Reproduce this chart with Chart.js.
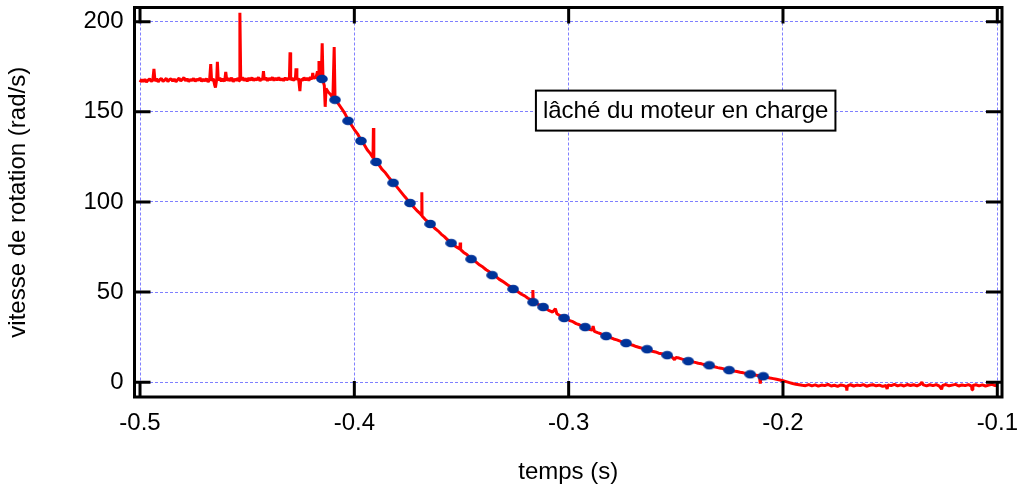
<!DOCTYPE html>
<html><head><meta charset="utf-8">
<script src="https://cdn.jsdelivr.net/npm/chart.js@4.4.1/dist/chart.umd.min.js"></script>
<style>html,body{margin:0;padding:0;background:#fff;overflow:hidden}canvas{display:block}</style>
</head><body>
<canvas id="c" width="1017" height="485"></canvas>
<script>
// ---- data ----
const redTime = [
-0.50000,-0.49925,-0.49850,-0.49775,-0.49700,-0.49625,-0.49550,-0.49475,-0.49400,-0.49350,
-0.49300,-0.49225,-0.49150,-0.49075,-0.49000,-0.48925,-0.48850,-0.48775,-0.48700,-0.48625,
-0.48550,-0.48475,-0.48400,-0.48325,-0.48250,-0.48175,-0.48100,-0.48025,-0.47950,-0.47875,
-0.47800,-0.47725,-0.47650,-0.47575,-0.47500,-0.47425,-0.47350,-0.47275,-0.47200,-0.47125,
-0.47050,-0.46975,-0.46900,-0.46825,-0.46750,-0.46700,-0.46660,-0.46575,-0.46520,-0.46480,
-0.46420,-0.46390,-0.46350,-0.46275,-0.46200,-0.46125,-0.46050,-0.46000,-0.45950,-0.45875,
-0.45800,-0.45725,-0.45650,-0.45575,-0.45500,-0.45425,-0.45380,-0.45340,-0.45300,-0.45225,
-0.45150,-0.45075,-0.45000,-0.44925,-0.44850,-0.44775,-0.44700,-0.44625,-0.44550,-0.44475,
-0.44400,-0.44325,-0.44280,-0.44240,-0.44200,-0.44125,-0.44050,-0.43975,-0.43900,-0.43825,
-0.43750,-0.43675,-0.43600,-0.43525,-0.43450,-0.43375,-0.43300,-0.43225,-0.43150,-0.43075,
-0.43030,-0.43000,-0.42970,-0.42900,-0.42850,-0.42750,-0.42720,-0.42680,-0.42600,-0.42540,
-0.42500,-0.42425,-0.42350,-0.42275,-0.42200,-0.42125,-0.42050,-0.41980,-0.41940,-0.41900,
-0.41850,-0.41800,-0.41720,-0.41680,-0.41650,-0.41620,-0.41580,-0.41540,-0.41500,-0.41460,
-0.4140,-0.4136,-0.4132,-0.4122,-0.4112,-0.4100,-0.4094,-0.4090,-0.4075,
-0.4060,-0.4045,-0.4030,-0.4015,-0.4000,-0.3985,-0.3970,-0.3955,-0.3940,-0.3925,-0.3913,-0.3911,-0.3909,-0.3897,-0.3885,-0.3870,-0.3855,-0.3840,-0.3825,-0.3810,
-0.3795,-0.3780,-0.3765,-0.3750,-0.3735,-0.3720,-0.3705,-0.3690,-0.3686,-0.3685,-0.3684,-0.3670,-0.3655,-0.3640,-0.3625,-0.3610,-0.3595,-0.3580,-0.3565,-0.3550,
-0.3535,-0.3520,-0.3508,-0.3506,-0.3504,-0.3490,-0.3475,-0.3460,-0.3445,-0.3430,-0.3415,-0.3400,-0.3385,-0.3370,-0.3355,-0.3340,-0.3325,-0.3310,-0.3295,-0.3280,
-0.3265,-0.3250,-0.3235,-0.3220,-0.3205,-0.3190,-0.3175,-0.3169,-0.3167,-0.3165,-0.3150,-0.3135,-0.3120,-0.3105,-0.3090,-0.3075,-0.3062,-0.3055,-0.3040,-0.3025,
-0.3010,-0.2995,-0.2980,-0.2965,-0.2950,-0.2935,-0.2920,-0.2905,-0.2890,-0.2886,-0.2880,-0.2865,-0.2850,-0.2835,-0.2820,-0.2805,-0.2790,-0.2775,-0.2760,-0.2745,
-0.2730,-0.2715,-0.2700,-0.2685,-0.2670,-0.2655,-0.2640,-0.2625,-0.2610,-0.2595,-0.2580,-0.2565,-0.2550,-0.2535,-0.2520,-0.2506,-0.2500,-0.2485,-0.2470,-0.2455,
-0.2440,-0.2425,-0.2410,-0.2395,-0.2380,-0.2365,-0.2350,-0.2335,-0.2320,-0.2305,-0.2290,-0.2275,-0.2260,-0.2245,-0.2230,-0.2215,-0.2200,-0.2185,-0.2170,-0.2155,
-0.2140,-0.2125,-0.2110,-0.2106,-0.2102,-0.2090,-0.2075,-0.2060,-0.2045,-0.2030,-0.2015,-0.2000,-0.1985,-0.1970,-0.1955,-0.1940,-0.1925,-0.1910,
-0.1895,-0.1880,-0.1865,-0.1850,-0.1835,-0.1820,-0.1805,-0.1790,-0.1775,-0.1760,-0.1745,-0.1730,-0.1715,-0.1704,-0.1702,-0.1700,-0.1685,-0.1670,-0.1655,-0.1640,
-0.1625,-0.1610,-0.1595,-0.1580,-0.1565,-0.1550,-0.1535,-0.1520,-0.1514,-0.1510,-0.1495,-0.1480,-0.1465,-0.1450,-0.1435,-0.1420,-0.1405,-0.1390,-0.1375,-0.1360,
-0.1352,-0.1345,-0.1330,-0.1315,-0.1300,-0.1285,-0.1270,-0.1260,-0.1255,-0.1240,-0.1225,-0.1210,-0.1195,-0.1180,-0.1165,-0.1150,-0.1135,-0.1120,-0.1118,-0.1114,
-0.1100,-0.1085,-0.1070,-0.1055,-0.1040,-0.1025,-0.1010,-0.1000
];
const redSpeed = [
166.4,167.9,166.8,168.1,166.5,167.6,168.3,166.9,167.7,173.8,
167.0,168.4,166.7,167.9,168.5,166.9,167.6,168.6,166.8,167.9,
168.4,167.0,168.2,166.7,167.8,168.7,167.1,168.0,169.0,167.2,
168.3,166.8,168.0,167.3,168.6,166.9,168.2,167.4,168.8,166.9,
168.1,167.2,168.5,166.6,168.0,176.5,167.3,168.4,165.0,163.5,
168.2,177.8,167.5,168.8,167.0,168.3,166.9,172.2,167.4,168.6,
167.2,168.9,166.8,168.2,167.5,168.7,167.2,205.0,167.8,169.1,
167.4,168.5,167.0,168.8,167.5,169.0,167.3,168.4,167.7,169.2,
167.2,168.5,167.6,172.6,167.8,168.9,167.3,168.6,167.8,169.1,
167.4,168.7,167.6,169.0,167.5,168.4,167.3,168.9,167.7,168.6,
167.9,183.0,167.6,168.8,167.5,168.4,174.2,167.8,168.5,161.5,
168.2,167.3,169.0,167.6,168.7,167.4,169.2,168.0,171.6,168.3,
169.6,168.4,172.5,169.0,178.2,170.8,174.0,169.5,188.0,167.2,
164.5,152.8,163.0,161.0,159.8,157.8,186.0,156.8,154.6,
152.0,149.3,145.8,143.0,140.2,137.8,134.6,132.0,129.0,126.8,124.6,141.0,124.0,122.0,120.6,118.0,116.2,113.8,111.5,109.6,
107.4,105.2,103.0,100.9,99.0,96.8,94.9,93.2,92.6,105.4,92.2,90.4,88.9,87.3,85.4,84.0,82.2,80.8,79.0,77.8,
76.0,74.8,74.0,77.5,73.6,72.0,70.8,69.2,67.9,66.5,65.0,63.9,62.4,61.3,59.6,58.7,57.2,56.1,54.9,53.6,
52.5,51.2,50.1,48.8,47.9,46.6,45.7,45.0,51.1,44.6,43.6,42.8,41.6,40.8,39.7,38.9,40.8,38.0,36.9,36.0,
35.3,34.2,33.6,32.5,31.9,31.0,30.3,29.4,28.9,31.2,28.2,27.5,26.9,26.0,25.4,24.8,24.0,23.5,22.8,22.1,
21.6,21.0,20.5,19.8,19.3,18.8,18.2,17.8,17.2,16.8,16.1,15.8,15.2,14.8,14.3,12.4,13.8,13.4,12.8,12.4,
11.9,11.4,11.0,10.5,10.2,9.7,9.4,8.9,8.6,8.1,7.8,7.3,7.0,6.6,6.2,5.9,5.5,5.2,4.8,4.5,
4.2,3.9,3.6,-0.8,3.3,3.0,2.7,2.3,2.0,1.6,1.2,0.8,0.3,-0.2,-0.7,-1.1,-1.4,-1.7,
-1.9,-1.3,-2.0,-1.5,-2.2,-1.6,-1.9,-1.2,-2.1,-1.7,-2.3,-1.5,-1.9,-2.4,-4.6,-2.0,-1.4,-2.1,-1.6,-1.9,
-1.3,-2.2,-1.7,-1.4,-2.0,-1.6,-2.3,-1.8,-3.8,-1.5,-1.9,-1.2,-2.0,-1.5,-2.1,-1.3,-1.8,-1.4,-2.0,-1.2,
0.0,-1.5,-2.0,-1.4,-1.9,-1.3,-2.2,-3.9,-1.8,-1.3,-2.0,-1.6,-1.2,-2.1,-1.5,-1.9,-1.3,-2.2,-4.2,-1.8,
-1.4,-2.0,-1.5,-2.1,-1.6,-1.2,-1.9,-1.5
];
const fitTime = [-0.4151,-0.4090,-0.4029,-0.3969,-0.3898,-0.3819,-0.3740,-0.3646,-0.3548,-0.3455,-0.3357,-0.3259,-0.3166,
  -0.3119,-0.3021,-0.2923,-0.2825,-0.2732,-0.2634,-0.2540,-0.2442,-0.2344,-0.2251,-0.2153,-0.2092];
const fitSpeed = [168.3,156.7,145.0,133.9,122.2,110.6,99.4,87.8,77.2,68.3,59.4,51.7,44.4,
  41.7,35.6,30.6,25.6,21.7,18.3,15.0,11.7,9.4,6.7,4.4,3.3];
const xTicks = [-0.5,-0.4,-0.3,-0.2,-0.1];
const xTickLabels = ['-0.5','-0.4','-0.3','-0.2','-0.1'];
const yTicks = [0,50,100,150,200];
const yTickLabels = ['0','50','100','150','200'];
const xTitle = 'temps (s)';
const yTitle = 'vitesse de rotation (rad/s)';
const noteText = 'lâché du moteur en charge';
const noteTime = -0.2454, noteSpeed = 150.7;

// ---- styles ----
const FONT = 'Liberation Sans';
const TL = 16;
const dot = document.createElement('canvas');
dot.width = 12; dot.height = 10;
(function(){const g = dot.getContext('2d'); g.fillStyle = '#003399'; g.beginPath(); g.ellipse(6,5,5.8,4.3,0,0,Math.PI*2); g.fill();})();

const redPts = redTime.map((t,i)=>({x:t,y:redSpeed[i]}));
const fitPts = fitTime.map((t,i)=>({x:t,y:fitSpeed[i]}));

const noPad = s => { s.paddingTop = 0; s.paddingBottom = 0; s.paddingLeft = 0; s.paddingRight = 0; };

const framePlugin = {
  id:'frame',
  afterDatasetsDraw(chart){
    const {ctx, chartArea:a, scales:{x,y}} = chart;
    ctx.save();
    ctx.strokeStyle = '#000'; ctx.lineWidth = 3;
    ctx.beginPath();
    xTicks.forEach(v=>{const p=x.getPixelForValue(v); ctx.moveTo(p,a.bottom); ctx.lineTo(p,a.bottom-TL); ctx.moveTo(p,a.top); ctx.lineTo(p,a.top+TL);});
    yTicks.forEach(v=>{const p=y.getPixelForValue(v); ctx.moveTo(a.left,p); ctx.lineTo(a.left+TL,p); ctx.moveTo(a.right,p); ctx.lineTo(a.right-TL,p);});
    ctx.stroke();
    ctx.strokeRect(a.left,a.top,a.right-a.left,a.bottom-a.top);
    // annotation box
    const cx = x.getPixelForValue(noteTime), cy = y.getPixelForValue(noteSpeed);
    ctx.font = '24px "'+FONT+'"';
    const w = ctx.measureText(noteText).width + 14, h = 40;
    ctx.fillStyle = '#fff';
    ctx.fillRect(cx-w/2, cy-h/2, w, h);
    ctx.lineWidth = 2;
    ctx.strokeRect(cx-w/2, cy-h/2, w, h);
    ctx.fillStyle = '#000'; ctx.textAlign = 'center'; ctx.textBaseline = 'middle';
    ctx.fillText(noteText, cx, cy+1);
    ctx.restore();
  }
};

new Chart(document.getElementById('c'), {
  type:'scatter',
  data:{datasets:[
    {label:'fit', data:fitPts, showLine:false, pointStyle:dot, pointRadius:5, pointHoverRadius:5},
    {label:'mesure', data:redPts, showLine:true, borderColor:'#ff0000', borderWidth:3, borderJoinStyle:'bevel', pointRadius:0, tension:0, fill:false}
  ]},
  options:{
    responsive:false, animation:false, devicePixelRatio:1,
    layout:{padding:{top:7.5,right:15,left:0,bottom:0}},
    plugins:{legend:{display:false}, tooltip:{enabled:false}},
    scales:{
      x:{type:'linear', min:-0.50257, max:-0.09781,
        afterBuildTicks:s=>{s.ticks = xTicks.map(v=>({value:v}));},
        afterFit:s=>{s.height = 88; noPad(s);},
        grid:{color:'#7f7fff', lineWidth:1, drawTicks:false},
        border:{display:false, dash:[3,2]},
        ticks:{padding:12, color:'#000', font:{family:FONT,size:24}, maxRotation:0, autoSkip:false, callback:(v,i)=>xTickLabels[i]},
        title:{display:true, text:xTitle, color:'#000', font:{family:FONT,size:24,lineHeight:1}, padding:{top:0,bottom:1}}
      },
      y:{type:'linear', min:-8.2, max:207.9,
        afterBuildTicks:s=>{s.ticks = yTicks.map(v=>({value:v}));},
        afterFit:s=>{s.width = 134.5; noPad(s);},
        grid:{color:'#7f7fff', lineWidth:1, drawTicks:false},
        border:{display:false, dash:[3,2]},
        ticks:{padding:11, color:'#000', font:{family:FONT,size:24}, autoSkip:false, callback:(v,i)=>yTickLabels[i]},
        title:{display:true, text:yTitle, color:'#000', font:{family:FONT,size:24,lineHeight:1}, padding:{top:6,bottom:0}}
      }
    }
  },
  plugins:[framePlugin]
});
</script>
</body></html>
